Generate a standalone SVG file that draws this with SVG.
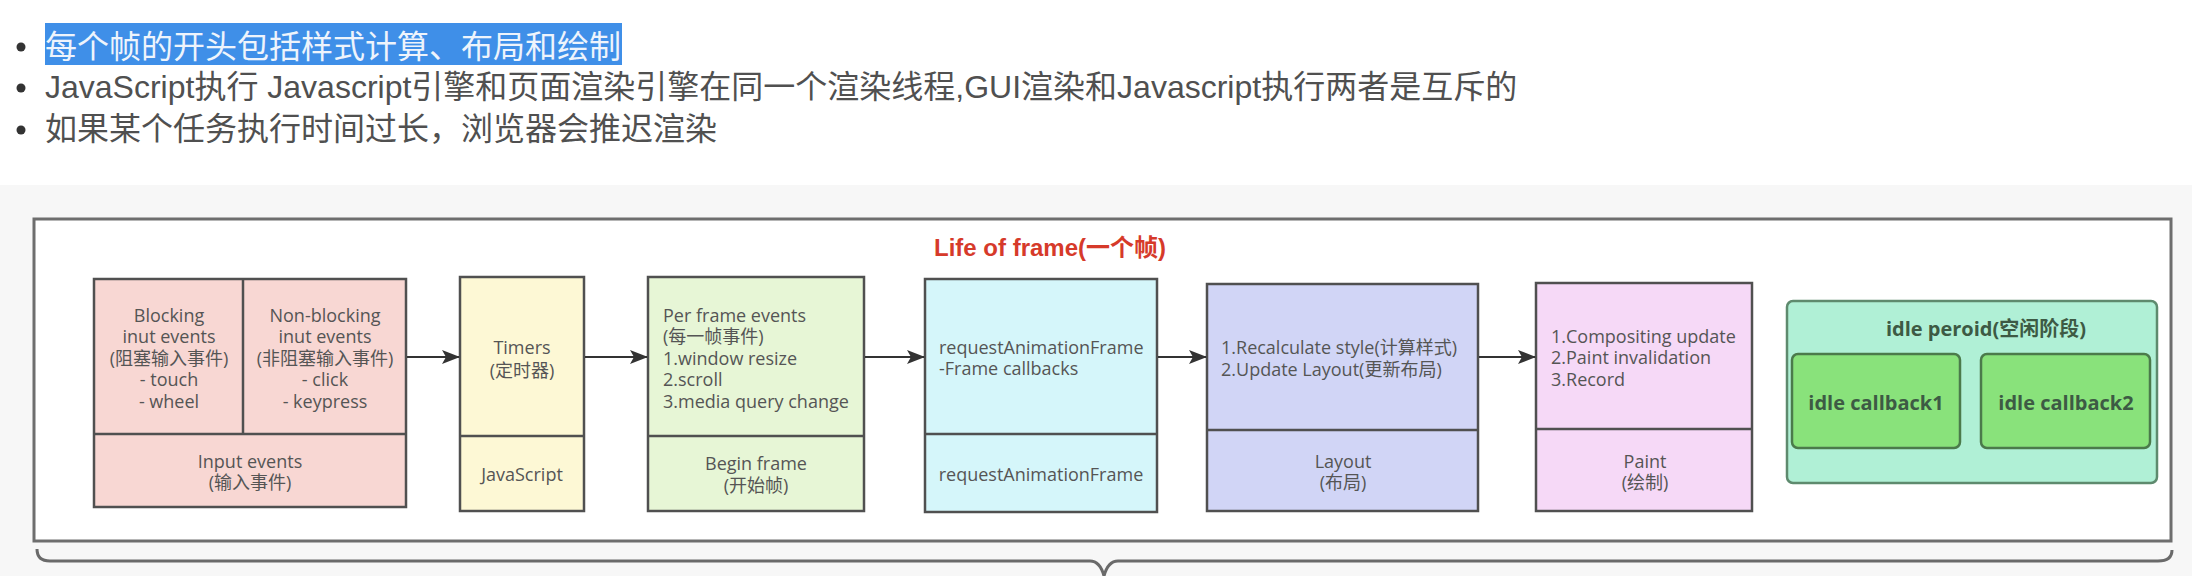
<svg xmlns="http://www.w3.org/2000/svg" width="2192" height="576" viewBox="0 0 2192 576">
<defs>
<marker id="arr" markerWidth="18" markerHeight="16" refX="17" refY="8" orient="auto" markerUnits="userSpaceOnUse" viewBox="0 0 18 16">
<path d="M0,1 L18,8 L0,15 L4,8 Z" fill="#333"/>
</marker>
<style>
.bullet{font-family:"Liberation Sans","Noto Sans CJK SC",sans-serif;font-size:32px;fill:#505050}
.t{font-family:"Open Sans","Noto Sans CJK SC",sans-serif;font-size:18px;fill:#555}
.c{text-anchor:middle}
.box{stroke:#505050;stroke-width:2.5}
.conn{stroke:#333;stroke-width:2.2;fill:none;marker-end:url(#arr)}
.title{font-family:"Liberation Sans","Noto Sans CJK SC",sans-serif;font-size:24px;font-weight:bold;fill:#d63a2a;text-anchor:middle}
.idle{font-family:"Open Sans","Noto Sans CJK SC",sans-serif;font-size:20px;font-weight:bold;fill:#3d5a44;text-anchor:middle}
</style>
</defs>
<rect x="0" y="0" width="2192" height="576" fill="#ffffff"/>
<rect x="0" y="185" width="2192" height="391" fill="#f7f7f7"/>

<g id="bullets">
<rect x="45" y="23" width="577" height="42" fill="#3f8fe8"/>
<circle cx="21" cy="47" r="4.5" fill="#333"/>
<circle cx="21" cy="88" r="4.5" fill="#333"/>
<circle cx="21" cy="130" r="4.5" fill="#333"/>
<text class="bullet" x="45" y="58" style="fill:#eef4fc">每个帧的开头包括样式计算、布局和绘制</text>
<text class="bullet" x="45" y="98">JavaScript执行 Javascript引擎和页面渲染引擎在同一个渲染线程,GUI渲染和Javascript执行两者是互斥的</text>
<text class="bullet" x="45" y="140">如果某个任务执行时间过长，浏览器会推迟渲染</text>
</g>

<g id="frame">
<rect x="34" y="219" width="2137" height="322" fill="#ffffff" stroke="#6e6e6e" stroke-width="3"/>
<text class="title" x="1050" y="256">Life of frame(一个帧)</text>
</g>

<g id="brace">
<path d="M37,549 Q37,561 50,561 L1090,561 Q1100,561 1104,576 Q1108,561 1118,561 L2158,561 Q2172,561 2172,550" fill="none" stroke="#6a6a6a" stroke-width="3"/>
</g>

<g id="input-events">
<rect class="box" x="94" y="279" width="312" height="228" fill="#f8d7d3"/>
<line class="box" x1="243" y1="279" x2="243" y2="434"/>
<line class="box" x1="94" y1="434" x2="406" y2="434"/>
<text class="t c" x="169"><tspan x="169" y="322">Blocking</tspan><tspan x="169" y="343">inut events</tspan><tspan x="169" y="365">(阻塞输入事件)</tspan><tspan x="169" y="386">- touch</tspan><tspan x="169" y="408">- wheel</tspan></text>
<text class="t c" x="325"><tspan x="325" y="322">Non-blocking</tspan><tspan x="325" y="343">inut events</tspan><tspan x="325" y="365">(非阻塞输入事件)</tspan><tspan x="325" y="386">- click</tspan><tspan x="325" y="408">- keypress</tspan></text>
<text class="t c" x="250"><tspan x="250" y="468">Input events</tspan><tspan x="250" y="489">(输入事件)</tspan></text>
</g>

<g id="timers">
<rect class="box" x="460" y="277" width="124" height="234" fill="#fdf8d5"/>
<line class="box" x1="460" y1="436" x2="584" y2="436"/>
<text class="t c" x="522"><tspan x="522" y="354">Timers</tspan><tspan x="522" y="377">(定时器)</tspan></text>
<text class="t c" x="522" y="481">JavaScript</text>
</g>

<g id="per-frame">
<rect class="box" x="648" y="277" width="216" height="234" fill="#e7f6d6"/>
<line class="box" x1="648" y1="436" x2="864" y2="436"/>
<text class="t" x="663"><tspan x="663" y="322">Per frame events</tspan><tspan x="663" y="343">(每一帧事件)</tspan><tspan x="663" y="365">1.window resize</tspan><tspan x="663" y="386">2.scroll</tspan><tspan x="663" y="408">3.media query change</tspan></text>
<text class="t c" x="756"><tspan x="756" y="470">Begin frame</tspan><tspan x="756" y="492">(开始帧)</tspan></text>
</g>

<g id="raf">
<rect class="box" x="925" y="279" width="232" height="233" fill="#d5f6fa"/>
<line class="box" x1="925" y1="434" x2="1157" y2="434"/>
<text class="t" x="939"><tspan x="939" y="354">requestAnimationFrame</tspan><tspan x="939" y="375">-Frame callbacks</tspan></text>
<text class="t c" x="1041" y="481">requestAnimationFrame</text>
</g>

<g id="layout">
<rect class="box" x="1207" y="284" width="271" height="227" fill="#d1d5f6" stroke="#4e5068"/>
<line class="box" x1="1207" y1="430" x2="1478" y2="430" stroke="#4e5068"/>
<text class="t" x="1221"><tspan x="1221" y="354">1.Recalculate style(计算样式)</tspan><tspan x="1221" y="376">2.Update Layout(更新布局)</tspan></text>
<text class="t c" x="1343"><tspan x="1343" y="468">Layout</tspan><tspan x="1343" y="489">(布局)</tspan></text>
</g>

<g id="paint">
<rect class="box" x="1536" y="283" width="216" height="228" fill="#f6d9f7" stroke="#645464"/>
<line class="box" x1="1536" y1="429" x2="1752" y2="429" stroke="#645464"/>
<text class="t" x="1551"><tspan x="1551" y="343">1.Compositing update</tspan><tspan x="1551" y="364">2.Paint invalidation</tspan><tspan x="1551" y="386">3.Record</tspan></text>
<text class="t c" x="1645"><tspan x="1645" y="468">Paint</tspan><tspan x="1645" y="489">(绘制)</tspan></text>
</g>

<g id="idle-period">
<rect x="1787" y="301" width="370" height="182" rx="6" fill="#b0f0d6" stroke="#5e8a6e" stroke-width="2.5"/>
<text class="idle" x="1986" y="336">idle peroid(空闲阶段)</text>
</g>
<g id="idle-callback1">
<rect x="1792" y="354" width="168" height="94" rx="6" fill="#89e27b" stroke="#4b7a4b" stroke-width="2.5"/>
<text class="idle" x="1876" y="410">idle callback1</text>
</g>
<g id="idle-callback2">
<rect x="1981" y="354" width="169" height="94" rx="6" fill="#89e27b" stroke="#4b7a4b" stroke-width="2.5"/>
<text class="idle" x="2066" y="410">idle callback2</text>
</g>

<g id="connectors">
<line class="conn" x1="407" y1="357" x2="459" y2="357"/>
<line class="conn" x1="585" y1="357" x2="647" y2="357"/>
<line class="conn" x1="865" y1="357" x2="924" y2="357"/>
<line class="conn" x1="1158" y1="357" x2="1206" y2="357"/>
<line class="conn" x1="1479" y1="357" x2="1535" y2="357"/>
</g>
</svg>
